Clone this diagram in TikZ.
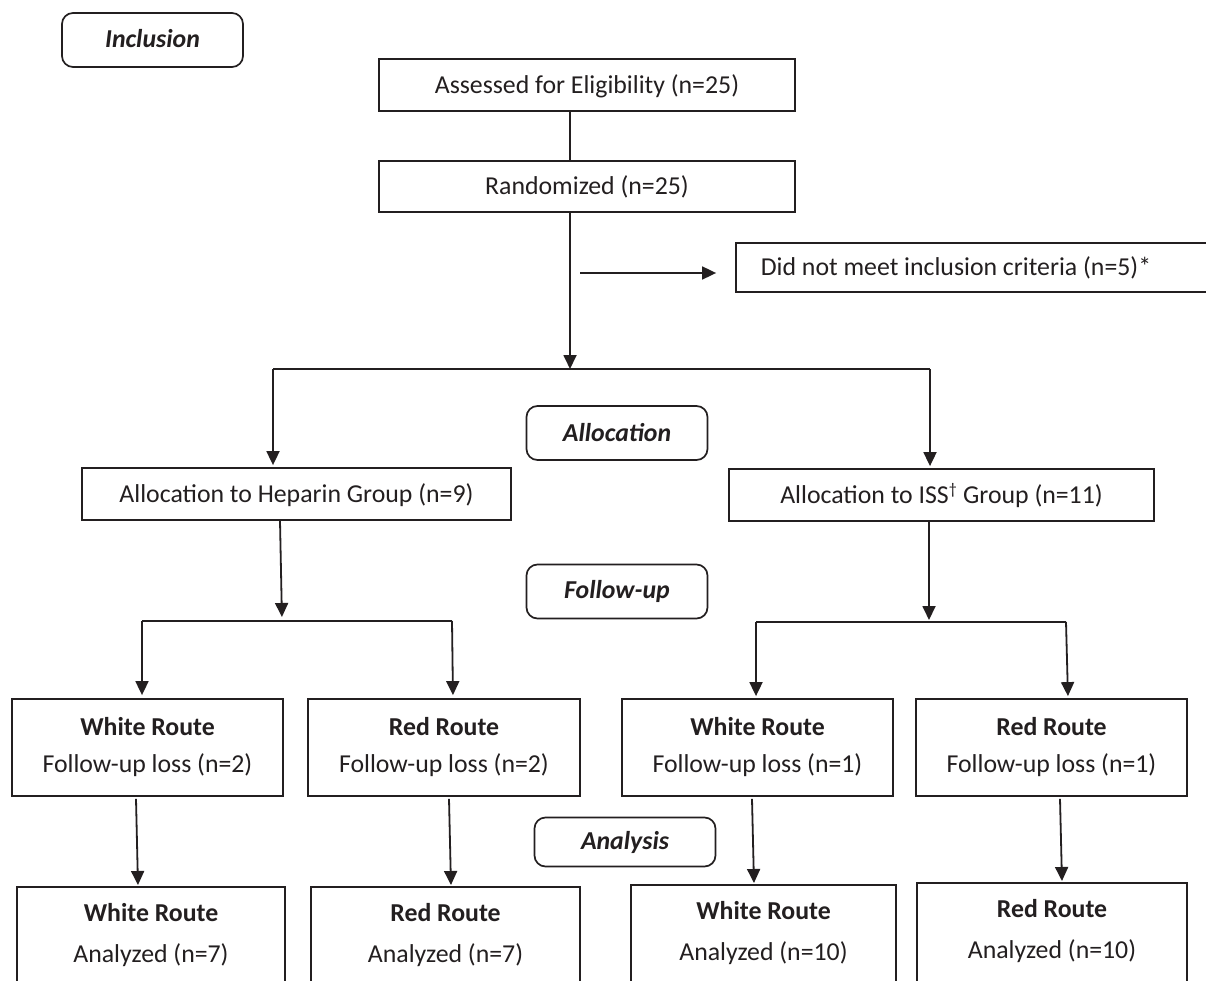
\documentclass[tikz,border=0pt]{standalone}
\usepackage{fontspec}
\setmainfont{Carlito}
\usetikzlibrary{arrows.meta,calc}
\definecolor{ink}{HTML}{231F20}
\begin{document}
\begin{tikzpicture}[x=1pt,y=-1pt,
  every node/.style={text=ink, font=\fontsize{25.8}{31}\selectfont},
  box/.style={draw=ink, line width=1.8pt, rectangle, inner sep=0pt},
  one/.style={text height=19pt, text depth=2.5pt},
  phase/.style={draw=ink, line width=1.7pt, rounded corners=11pt, minimum width=181pt, minimum height=54pt, inner sep=0pt, font=\fontsize{25.8}{31}\selectfont\bfseries\itshape},
  link/.style={draw=ink, line width=1.8pt},
  arr/.style={link, -{Triangle[length=14pt,width=13pt]}},
  twoline/.style={align=center, font=\fontsize{25.8}{37}\selectfont},
  twolineb/.style={align=center, font=\fontsize{25.8}{41}\selectfont},
]
\clip (0,0) rectangle (1206,981);
\fill[white] (0,0) rectangle (1206,981);

% phase labels
\node[phase, text height=19pt, text depth=3pt] (incl) at (152.5,40) {Inclusion};
\node[phase] (alloc) at (617,433) {Allocation};
\node[phase] (follow) at (617,591.5) {Follow-up};
\node[phase, minimum height=49pt] (analysis) at (625,842) {Analysis};

% top boxes
\node[box, one, minimum width=416pt, minimum height=52pt] (assess) at (587,85) {Assessed for Eligibility (n=25)};
\node[box, one, minimum width=416pt, minimum height=51pt] (rand) at (587,186.5) {Randomized (n=25)};
\node[box, one, minimum width=490pt, minimum height=49pt] (excl) at (981,267.5) {Did not meet inclusion criteria (n=5)*\hspace*{50pt}};

% allocation boxes
\node[box, one, minimum width=429pt, minimum height=52pt] (hep) at (296.5,494) {Allocation to Heparin Group (n=9)};
\node[box, one, minimum width=425pt, minimum height=52pt] (iss) at (941.5,495) {Allocation to ISS\textsuperscript{\fontsize{16}{16}\selectfont †} Group (n=11)};

% follow-up boxes
\node[box, twoline, minimum width=271pt, minimum height=97pt] (wr1) at (147.5,747.5) {\textbf{White Route}\\Follow-up loss (n=2)};
\node[box, twoline, minimum width=272pt, minimum height=97pt] (rr1) at (444,747.5) {\textbf{Red Route}\\Follow-up loss (n=2)};
\node[box, twoline, minimum width=271pt, minimum height=97pt] (wr2) at (757.5,747.5) {\textbf{White Route}\\Follow-up loss (n=1)};
\node[box, twoline, minimum width=271pt, minimum height=97pt] (rr2) at (1051.5,747.5) {\textbf{Red Route}\\Follow-up loss (n=1)};

% analysis boxes
\node[box, anchor=north, minimum width=268pt, minimum height=110pt] (wr3) at (151,886) {};
\node[box, anchor=north, minimum width=269pt, minimum height=110pt] (rr3) at (445.5,886) {};
\node[box, anchor=north, minimum width=265pt, minimum height=110pt] (wr4) at (763.5,884) {};
\node[box, anchor=north, minimum width=270pt, minimum height=110pt] (rr4) at (1052,882) {};
\node[twolineb] (wr3t) at ($(wr3.north)+(0,49)$) {\textbf{White Route}\\Analyzed (n=7)};
\node[twolineb] (rr3t) at ($(rr3.north)+(0,49)$) {\textbf{Red Route}\\Analyzed (n=7)};
\node[twolineb] (wr4t) at ($(wr4.north)+(0,49)$) {\textbf{White Route}\\Analyzed (n=10)};
\node[twolineb] (rr4t) at ($(rr4.north)+(0,49)$) {\textbf{Red Route}\\Analyzed (n=10)};

% junction coordinates
\coordinate (j1) at (570,369);
\coordinate (j1L) at (273,369);
\coordinate (j1R) at (930,369);
\coordinate (s0) at (580,273);
\coordinate (j2) at (282,621);
\coordinate (j2L) at (142,621);
\coordinate (j2R) at (452,621);
\coordinate (j3) at (929,622);
\coordinate (j3L) at (756,622);
\coordinate (j3R) at (1066,622);

% connectors
\draw[link] ([xshift=-17pt]assess.south) -- ([xshift=-17pt]rand.north);
\draw[arr] ([xshift=-17pt]rand.south) -- (j1);
\draw[arr, shorten >=19pt] (s0) -- (s0 -| excl.west);
\draw[link] (j1L) -- (j1R);
\draw[arr, shorten >=2pt] (j1L) -- (j1L |- hep.north);
\draw[arr, shorten >=2pt] (j1R) -- (j1R |- iss.north);

\draw[arr, shorten >=4pt] ([xshift=-2pt]hep.south -| j2) -- (j2);
\draw[link] (j2L) -- (j2R);
\draw[arr, shorten >=3pt] (j2L) -- (j2L |- wr1.north);
\draw[arr, shorten >=3pt] (j2R) -- ([xshift=1pt]j2R |- rr1.north);

\draw[arr, shorten >=2pt] (iss.south -| j3) -- (j3);
\draw[link] (j3L) -- (j3R);
\draw[arr, shorten >=2pt] (j3L) -- (j3L |- wr2.north);
\draw[arr, shorten >=2pt] (j3R) -- ([xshift=2pt]j3R |- rr2.north);

\draw[arr, shorten >=1pt] ([xshift=-11.5pt,yshift=-2pt]wr1.south) -- ([xshift=-13pt]wr3.north);
\draw[arr, shorten >=1pt] ([xshift=5pt,yshift=-2pt]rr1.south) -- ([xshift=5.5pt]rr3.north);
\draw[arr, shorten >=1pt] ([xshift=-5.5pt,yshift=-2pt]wr2.south) -- ([xshift=-9.5pt]wr4.north);
\draw[arr, shorten >=1pt] ([xshift=8.5pt,yshift=-2pt]rr2.south) -- ([xshift=10pt]rr4.north);
\end{tikzpicture}
\end{document}
